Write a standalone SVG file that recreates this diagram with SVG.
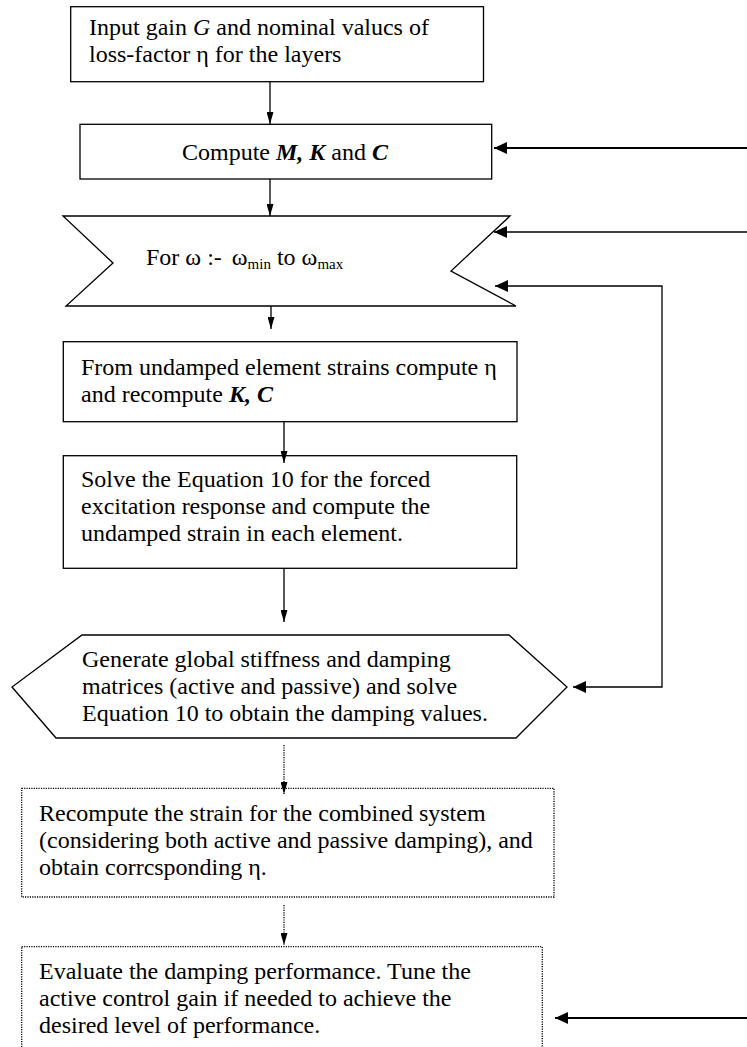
<svg xmlns="http://www.w3.org/2000/svg" width="747" height="1047" viewBox="0 0 747 1047">
<style>
  .box { fill: #fff; stroke: #000; stroke-width: 1.3; }
  .dot { fill: #fff; stroke: #000; stroke-width: 1.3; stroke-dasharray: 1.2 1.2; }
  .t { font-family: "Liberation Serif", "Times New Roman", serif; font-size: 24px; fill: #000; }
  .bi { font-weight: bold; font-style: italic; }
  .it { font-style: italic; }
  .c { fill: none; stroke: #000; stroke-width: 1.3; }
  .cd { fill: none; stroke: #000; stroke-width: 1.3; stroke-dasharray: 1.2 1.2; }
  .cl { fill: none; stroke: #000; stroke-width: 2; }
</style>
<defs>
  <marker id="a" markerUnits="userSpaceOnUse" markerWidth="12" markerHeight="7" refX="12" refY="3.5" orient="auto" viewBox="0 0 12 7">
    <path d="M0,0 L12,3.5 L0,7 z" fill="#000"/>
  </marker>
  <marker id="b" markerUnits="userSpaceOnUse" markerWidth="13" markerHeight="12" refX="13" refY="6" orient="auto-start-reverse" viewBox="0 0 13 12">
    <path d="M0,0 L13,6 L0,12 z" fill="#000"/>
  </marker>
</defs>

<g id="n1">
  <rect class="box" x="70.7" y="6.7" width="412.8" height="75"/>
  <text class="t" x="89" y="35">Input gain <tspan class="it">G</tspan> and nominal valucs of</text>
  <text class="t" x="89" y="62">loss-factor η for the layers</text>
</g>

<g id="n2">
  <rect class="box" x="80" y="124.3" width="411.7" height="54.7"/>
  <text class="t" x="285" y="160" text-anchor="middle">Compute <tspan class="bi">M, K</tspan> and <tspan class="bi">C</tspan></text>
</g>

<g id="n3">
  <path class="box" d="M63,216 L510,216 L451,271 L516,306 L66,306 L113,263 Z"/>
  <text class="t" x="146" y="265">For ω :-  <tspan dx="4">ω</tspan><tspan font-size="15" dy="4">min</tspan><tspan dy="-4"> to ω</tspan><tspan font-size="15" dy="4">max</tspan></text>
</g>

<g id="n4">
  <rect class="box" x="63.3" y="341.7" width="453.7" height="80"/>
  <text class="t" x="81" y="375">From undamped element strains compute η</text>
  <text class="t" x="81" y="402">and recompute <tspan class="bi">K, C</tspan></text>
</g>

<g id="n5">
  <rect class="box" x="63.3" y="455.7" width="453.4" height="112.6"/>
  <text class="t" x="81" y="487">Solve the Equation 10 for the forced</text>
  <text class="t" x="81" y="514">excitation response and compute the</text>
  <text class="t" x="81" y="541">undamped strain in each element.</text>
</g>

<g id="n6">
  <path class="box" d="M82,635 L509,635 L567,687 L516,738 L56,738 L12,687 Z"/>
  <text class="t" x="82" y="667">Generate global stiffness and damping</text>
  <text class="t" x="82" y="694">matrices (active and passive) and solve</text>
  <text class="t" x="82" y="721">Equation 10 to obtain the damping values.</text>
</g>

<g id="n7">
  <rect class="dot" x="21.7" y="788.3" width="532.3" height="108.7"/>
  <text class="t" x="39" y="821">Recompute the strain for the combined system</text>
  <text class="t" x="39" y="848">(considering both active and passive damping), and</text>
  <text class="t" x="39" y="875">obtain corrcsponding η.</text>
</g>

<g id="n8">
  <rect class="dot" x="21.7" y="946.7" width="520.6" height="120"/>
  <text class="t" x="39" y="979">Evaluate the damping performance. Tune the</text>
  <text class="t" x="39" y="1006">active control gain if needed to achieve the</text>
  <text class="t" x="39" y="1033">desired level of performance.</text>
</g>

<g id="connectors">
  <path class="c" d="M270,82 L270,124" marker-end="url(#a)"/>
  <path class="c" d="M270,179 L270,216" marker-end="url(#a)"/>
  <path class="c" d="M271,306 L271,329" marker-end="url(#a)"/>
  <path class="c" d="M284,422 L284,463" marker-end="url(#a)"/>
  <path class="c" d="M284,568 L284,622" marker-end="url(#a)"/>
  <path class="cd" d="M284,745 L284,794" marker-end="url(#a)"/>
  <path class="cd" d="M284,905 L284,945" marker-end="url(#a)"/>
  <path class="cl" d="M747,148 L494,148" marker-end="url(#b)"/>
  <path class="c" d="M747,232 L494,232" marker-end="url(#b)"/>
  <path class="c" d="M573,687 L662,687 L662,286 L495,286" marker-start="url(#b)" marker-end="url(#b)"/>
  <path class="cl" d="M747,1018 L555,1018" marker-end="url(#b)"/>
</g>
</svg>
